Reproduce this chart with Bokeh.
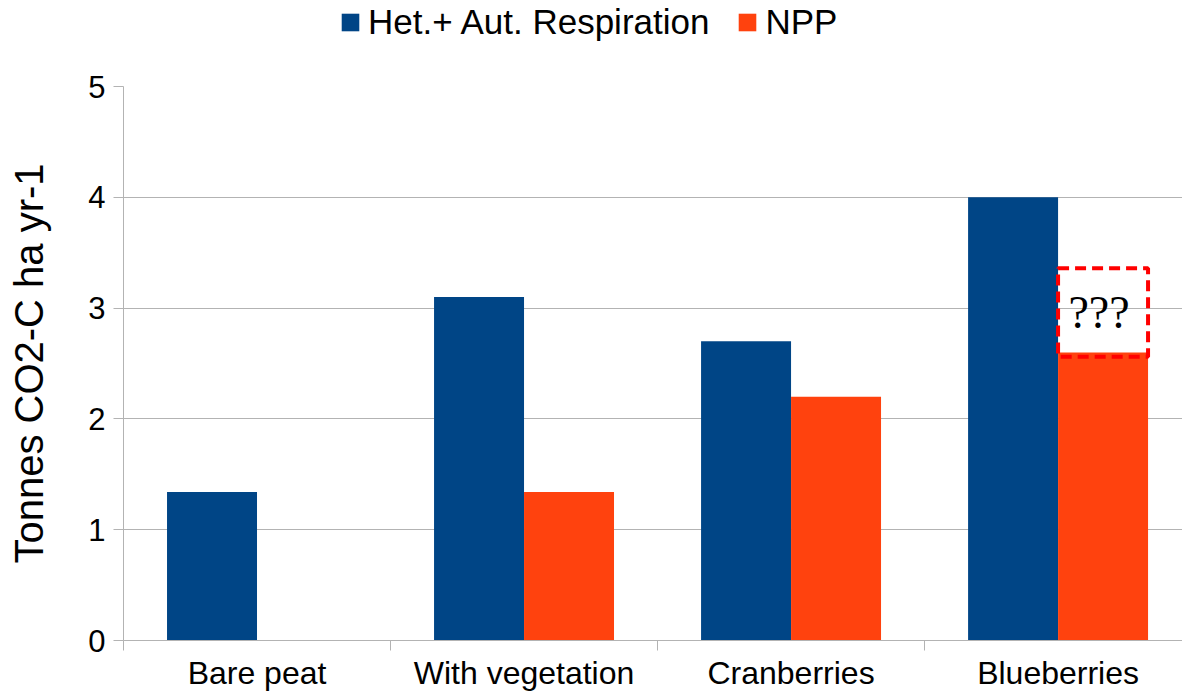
from bokeh.plotting import figure
from bokeh.layouts import column
from bokeh.models import (ColumnDataSource, Range1d, FixedTicker, Legend, LegendItem)
from bokeh.core.properties import value
from bokeh.embed import file_html
from bokeh.resources import INLINE

categories = ["Bare peat", "With vegetation", "Cranberries", "Blueberries"]
respiration = [1.34, 3.10, 2.70, 4.00]
npp = [0.0, 1.34, 2.20, 2.60]
series_names = ["Het.+ Aut. Respiration", "NPP"]
colors = ["#004586", "#ff420e"]
y_ticks = [0, 1, 2, 3, 4, 5]

# annotation box ("???") over the unknown Blueberries NPP value
box_category = 3
box_bottom = 2.56
box_top = 3.36
box_label = "???"

FONT = "Liberation Sans"
bar_w = 0.337
centers = [i + 0.5 for i in range(len(categories))]

# ---- legend strip on top (proxy renderers lie outside its visible range) ----
pl = figure(width=1182, height=70, output_backend="svg", toolbar_location=None,
            x_range=Range1d(0, 1), y_range=Range1d(0, 1),
            x_axis_location=None, y_axis_location=None, min_border=0)
pl.outline_line_color = None
pl.background_fill_color = "white"
pl.border_fill_color = "white"
pl.grid.visible = False
lr1 = pl.vbar(x=[-10], top=[-5], bottom=[-6], width=1, fill_color=colors[0],
              line_color=None, line_alpha=0)
lr2 = pl.vbar(x=[-10], top=[-5], bottom=[-6], width=1, fill_color=colors[1],
              line_color=None, line_alpha=0)
legend = Legend(items=[LegendItem(label=series_names[0], renderers=[lr1]),
                       LegendItem(label=series_names[1], renderers=[lr2])],
                orientation="horizontal", location=(216, 28),
                padding=0, margin=0, spacing=27, label_standoff=7,
                glyph_width=22, glyph_height=22,
                label_text_font=FONT, label_text_font_size="35px",
                label_text_color="black", border_line_color=None,
                background_fill_alpha=0)
pl.add_layout(legend, "center")

# ---- main chart ----
p = figure(width=1182, height=623, output_backend="svg", toolbar_location=None,
           x_range=Range1d(0, 3.966), y_range=Range1d(0, 5),
           min_border_left=123, min_border_right=0, min_border_top=16,
           min_border_bottom=52)
p.outline_line_color = None
p.background_fill_color = "white"
p.border_fill_color = "white"

src_r = ColumnDataSource(dict(x=[c - bar_w / 2 for c in centers], top=respiration))
src_n = ColumnDataSource(dict(x=[c + bar_w / 2 for c in centers], top=npp))
p.vbar(x="x", top="top", width=bar_w, source=src_r, fill_color=colors[0], line_color=None)
p.vbar(x="x", top="top", width=bar_w, source=src_n, fill_color=colors[1], line_color=None)

# annotation box
bx = centers[box_category]
p.quad(left=[bx], right=[bx + bar_w], bottom=[box_bottom], top=[box_top],
       fill_color=None, line_color="#ff0000", line_width=4, line_dash="11 6")
p.text(x=[bx + bar_w / 2 - 0.015], y=[(box_bottom + box_top) / 2], text=[box_label],
       text_font=value("Liberation Serif"), text_font_size="46px",
       text_align="center", text_baseline="middle", text_color="black")

# x axis
xa = p.xaxis[0]
xa.ticker = FixedTicker(ticks=centers, minor_ticks=list(range(len(categories))))
xa.major_label_overrides = {c: name for c, name in zip(centers, categories)}
xa.major_tick_out = 0
xa.major_tick_in = 0
xa.minor_tick_out = 10
xa.minor_tick_in = 0
xa.minor_tick_line_color = "#b3b3b3"
xa.axis_line_color = "#b3b3b3"
xa.major_label_text_font = FONT
xa.major_label_text_font_size = "32px"
xa.major_label_text_color = "black"
xa.major_label_standoff = 4
p.xgrid.visible = False

# y axis
ya = p.yaxis[0]
ya.ticker = FixedTicker(ticks=y_ticks, minor_ticks=[])
ya.major_tick_out = 10
ya.major_tick_in = 0
ya.major_tick_line_color = "#b3b3b3"
ya.axis_line_color = "#b3b3b3"
ya.major_label_text_font = FONT
ya.major_label_text_font_size = "31px"
ya.major_label_text_color = "black"
ya.major_label_standoff = 8
ya.axis_label = "Tonnes CO2-C ha yr-1"
ya.axis_label_text_font = FONT
ya.axis_label_text_font_size = "40px"
ya.axis_label_text_font_style = "normal"
ya.axis_label_text_color = "black"
ya.axis_label_standoff = 34
p.ygrid.grid_line_color = "#b3b3b3"
p.ygrid.grid_line_width = 1

layout = column(pl, p, spacing=0)
open("out.html", "w").write(file_html(layout, INLINE))
